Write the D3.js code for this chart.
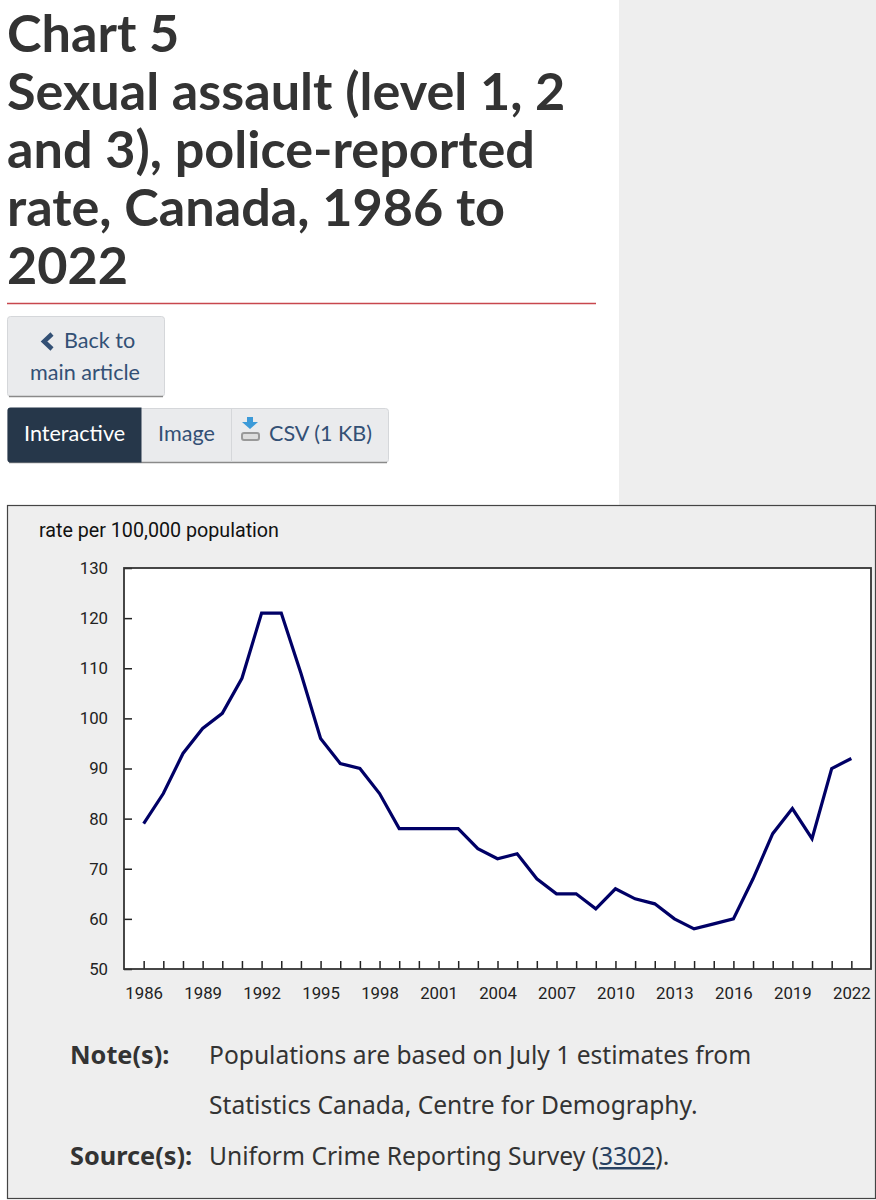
<!DOCTYPE html>
<html>
<head>
<meta charset="utf-8">
<script src="https://cdn.jsdelivr.net/npm/d3@7"></script>
<style>
  html, body { margin: 0; padding: 0; background: #fff; }
  svg { display: block; }
  .title { font: 700 52.2px Lato; fill: #333; }
  .btn { font: 400 21.6px Lato; fill: #335075; }
  .axis text { font: 400 16.8px Roboto; fill: #222; }
  .unit { font: 400 19.7px Roboto; fill: #111; }
  .note { font: 400 24.6px "Noto Sans"; fill: #333; }
  .note.b { font-weight: 700; font-size: 25.3px; }
</style>
</head>
<body>
<svg id="page" width="876" height="1200"></svg>
<script>
const years = d3.range(1986, 2023);
const rates = [79, 85, 93, 98, 101, 108, 121, 121, 109, 96, 91, 90, 85, 78, 78, 78, 78, 74, 72,
  73, 68, 65, 65, 62, 66, 64, 63, 60, 58, 59, 60, 68, 77, 82, 76, 90, 92];
const yTicks = [50, 60, 70, 80, 90, 100, 110, 120, 130];
const titleLines = ["Chart 5", "Sexual assault (level 1, 2", "and 3), police-reported", "rate, Canada, 1986 to", "2022"];
const noteLines = ["Populations are based on July 1 estimates from", "Statistics Canada, Centre for Demography."];

const svg = d3.select("#page");

// page furniture
svg.append("rect").attr("x", 619).attr("y", 0).attr("width", 257).attr("height", 505).attr("fill", "#eee");

svg.selectAll(".title").data(titleLines).join("text")
  .attr("class", "title")
  .attr("x", 7)
  .attr("y", (d, i) => 52 + i * 58)
  .text(d => d);

svg.append("line").attr("x1", 7).attr("x2", 596).attr("y1", 303.5).attr("y2", 303.5)
  .attr("stroke", "#c8474e").attr("stroke-width", 1.3);

// buttons
function button(x, y, w, h, fill) {
  svg.append("rect").attr("x", x + 0.5).attr("y", y + 0.5).attr("width", w).attr("height", h)
    .attr("rx", 3).attr("fill", fill).attr("stroke", "#d5d7da");
  svg.append("line").attr("x1", x + 2).attr("x2", x + w - 1).attr("y1", y + h + 0.5).attr("y2", y + h + 0.5)
    .attr("stroke", "#8a8a8a").attr("stroke-width", 1.5);
}
button(7, 316, 157, 80, "#eaebed");
button(7, 408, 381, 54, "#eaebed");
svg.append("path").attr("d", "M7.5 410.5 a3 3 0 0 1 3 -3 H141.5 V462.5 H10.5 a3 3 0 0 1 -3 -3 Z").attr("fill", "#26374a");
svg.append("line").attr("x1", 231.5).attr("x2", 231.5).attr("y1", 408).attr("y2", 462).attr("stroke", "#d5d7da");

svg.append("path").attr("d", "M52 334 L44 341.5 L52 349").attr("fill", "none").attr("stroke", "#335075").attr("stroke-width", 4.5);
svg.append("text").attr("class", "btn").attr("x", 64).attr("y", 348).text("Back to");
svg.append("text").attr("class", "btn").attr("x", 30).attr("y", 380).text("main article");
svg.append("text").attr("class", "btn").attr("x", 24).attr("y", 441).style("fill", "#fff").text("Interactive");
svg.append("text").attr("class", "btn").attr("x", 158).attr("y", 441).text("Image");
svg.append("text").attr("class", "btn").attr("x", 269).attr("y", 441).text("CSV (1 KB)");

// csv icon
svg.append("path").attr("d", "M247 417 H253 V422 H258 L250 429 L242 422 H247 Z").attr("fill", "#3c9ad8");
svg.append("rect").attr("x", 242).attr("y", 433).attr("width", 17).attr("height", 7).attr("rx", 2)
  .attr("fill", "#ddd").attr("stroke", "#999").attr("stroke-width", 2);

// chart panel
svg.append("rect").attr("x", 7.5).attr("y", 505.5).attr("width", 868).attr("height", 693)
  .attr("fill", "#eee").attr("stroke", "#444").attr("stroke-width", 1.2);

const plot = { left: 124, right: 871, top: 568, bottom: 969 };

const x = d3.scalePoint().domain(years).range([plot.left, plot.right]).padding(1);
const y = d3.scaleLinear().domain([50, 130]).range([plot.bottom, plot.top]);

svg.append("rect").attr("x", plot.left).attr("y", plot.top)
  .attr("width", plot.right - plot.left).attr("height", plot.bottom - plot.top).attr("fill", "#fff");

svg.append("text").attr("class", "unit").attr("x", 39).attr("y", 537).text("rate per 100,000 population");

// y axis, ticks go inward
const yAxis = svg.append("g").attr("class", "axis")
  .attr("transform", `translate(${plot.left},0)`)
  .call(d3.axisLeft(y).tickValues(yTicks).tickSize(-8).tickPadding(16));
yAxis.select(".domain").remove();
yAxis.selectAll("line").attr("stroke", "#222").attr("stroke-width", 1.5);

// x axis, every year gets a tick, every third a label
const xAxis = svg.append("g").attr("class", "axis")
  .attr("transform", `translate(0,${plot.bottom})`)
  .call(d3.axisBottom(x).tickSize(-8).tickPadding(18)
    .tickFormat(d => (d - 1986) % 3 === 0 ? d : ""));
xAxis.select(".domain").remove();
xAxis.selectAll("line").attr("stroke", "#222").attr("stroke-width", 1.5);

svg.append("rect").attr("x", plot.left).attr("y", plot.top)
  .attr("width", plot.right - plot.left).attr("height", plot.bottom - plot.top)
  .attr("fill", "none").attr("stroke", "#333").attr("stroke-width", 1.8);

const line = d3.line().x((d, i) => x(years[i])).y(d => y(d));
svg.append("path").datum(rates)
  .attr("d", line)
  .attr("fill", "none")
  .attr("stroke", "#000066")
  .attr("stroke-width", 3.2);

// notes
svg.append("text").attr("class", "note b").attr("x", 70).attr("y", 1064).text("Note(s):");
svg.selectAll(".nl").data(noteLines).join("text")
  .attr("class", "note nl")
  .attr("x", 209)
  .attr("y", (d, i) => 1064 + i * 50)
  .text(d => d);
svg.append("text").attr("class", "note b").attr("x", 70).attr("y", 1165).text("Source(s):");
const src = svg.append("text").attr("class", "note").attr("x", 209).attr("y", 1165);
src.append("tspan").text("Uniform Crime Reporting Survey (");
src.append("tspan").style("fill", "#284162").attr("text-decoration", "underline").text("3302");
src.append("tspan").text(").");
</script>
</body>
</html>
